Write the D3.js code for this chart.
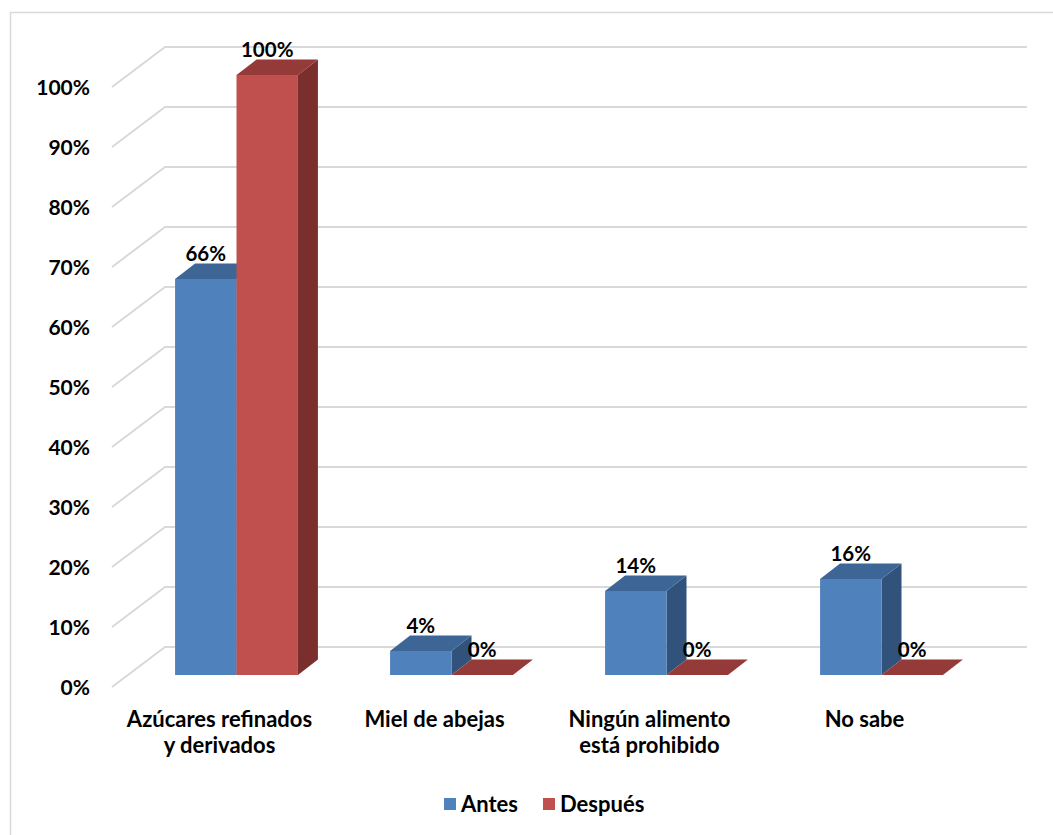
<!DOCTYPE html>
<html>
<head>
<meta charset="utf-8">
<script src="https://cdn.jsdelivr.net/npm/d3@7"></script>
<style>
  html, body { margin: 0; padding: 0; background: #fff; }
  svg { display: block; }
  text { font-family: Lato, "Open Sans", sans-serif; font-weight: 700; fill: #000; }
</style>
</head>
<body>
<svg id="chart" width="1053" height="835"></svg>
<script>
// Data
const categories = [["Azúcares refinados", "y derivados"], ["Miel de abejas"], ["Ningún alimento", "está prohibido"], ["No sabe"]];
const seriesNames = ["Antes", "Después"];
const antes = [0.66, 0.04, 0.14, 0.16];
const despues = [1.00, 0.00, 0.00, 0.00];
const yTicks = [0, 0.1, 0.2, 0.3, 0.4, 0.5, 0.6, 0.7, 0.8, 0.9, 1.0];

const colors = {
  Antes:   { front: "#4F81BD", top: "#3D6696", side: "#31527A" },
  "Después": { front: "#C0504D", top: "#943A38", side: "#7B2F2D" }
};

const svg = d3.select("#chart");
const W = 1053, H = 835;

// Chart border
svg.append("rect")
  .attr("x", 10.5).attr("y", 12.5)
  .attr("width", W + 20).attr("height", H + 20)
  .attr("fill", "#fff").attr("stroke", "#D9D9D9").attr("stroke-width", 1.5);

// 3D geometry: front edge of the floor/wall, and the depth vector to the back wall
const frontLeft = 112;
const wallDepth = { dx: 53, dy: -40 };
const catKeys = categories.map(c => c.join(" "));

const yFront = d3.scaleLinear().domain([0, 1]).range([687, 87]);
const yBack = d3.scaleLinear().domain([0, 1]).range([647, 47]);
const wallRight = 1027;

// Category band on the front floor edge (used for axis labels)
const xFront = d3.scaleBand().domain(catKeys).range([frontLeft, frontLeft + 860]);

// Bar plane sits partway into the depth
const barOffset = { dx: 17, dy: -12 };
const yBar = d3.scaleLinear().domain([0, 1]).range([yFront(0) + barOffset.dy, yFront(1) + barOffset.dy]);
const xBar = d3.scaleBand().domain(catKeys).range([frontLeft + barOffset.dx, frontLeft + barOffset.dx + 860]);
const xSeries = d3.scaleBand().domain(seriesNames).range([0, xBar.bandwidth()]).paddingInner(0).paddingOuter(0.75);
const barDepth = { dx: 20, dy: -15.5 };

// Gridlines: diagonal on the side wall plus horizontal on the back wall
const grid = svg.append("g").attr("stroke", "#D9D9D9").attr("stroke-width", 2).attr("fill", "none");
yTicks.forEach(t => {
  grid.append("path")
    .attr("d", `M${frontLeft},${yFront(t)} L${frontLeft + wallDepth.dx},${yBack(t)} L${wallRight},${yBack(t)}`);
});

// Y tick labels
svg.append("g").selectAll("text").data(yTicks).join("text")
  .attr("x", 90).attr("y", d => yFront(d))
  .attr("dy", "0.36em")
  .attr("text-anchor", "end")
  .attr("font-size", 21)
  .text(d => d3.format(".0%")(d));

// Bars
const rows = [];
catKeys.forEach((c, i) => {
  rows.push({ cat: c, series: "Antes", value: antes[i] });
  rows.push({ cat: c, series: "Después", value: despues[i] });
});

const bars = svg.append("g");
rows.forEach(r => {
  const x0 = xBar(r.cat) + xSeries(r.series);
  const x1 = x0 + xSeries.bandwidth();
  const yb = yBar(0), yt = yBar(r.value);
  const { dx, dy } = barDepth;
  const col = colors[r.series];
  const g = bars.append("g");
  // side face
  g.append("path")
    .attr("d", `M${x1},${yb} L${x1 + dx},${yb + dy} L${x1 + dx},${yt + dy} L${x1},${yt} Z`)
    .attr("fill", col.side);
  // top face
  g.append("path")
    .attr("d", `M${x0},${yt} L${x1},${yt} L${x1 + dx},${yt + dy} L${x0 + dx},${yt + dy} Z`)
    .attr("fill", col.top);
  // front face
  if (yb - yt > 0) {
    g.append("rect")
      .attr("x", x0).attr("y", yt)
      .attr("width", x1 - x0).attr("height", yb - yt)
      .attr("fill", col.front);
  }
});

// Data labels
svg.append("g").selectAll("text").data(rows).join("text")
  .attr("x", d => xBar(d.cat) + xSeries(d.series) + xSeries.bandwidth() / 2)
  .attr("y", d => yBar(d.value) - 18)
  .attr("text-anchor", "middle")
  .attr("font-size", 20.5)
  .text(d => d3.format(".0%")(d.value));

// Category labels
const catG = svg.append("g");
categories.forEach((lines, i) => {
  const t = catG.append("text")
    .attr("x", xFront(catKeys[i]) + xFront.bandwidth() / 2)
    .attr("y", 727)
    .attr("text-anchor", "middle")
    .attr("font-size", 22);
  lines.forEach((ln, j) => {
    t.append("tspan")
      .attr("x", xFront(catKeys[i]) + xFront.bandwidth() / 2)
      .attr("dy", j === 0 ? 0 : 26)
      .text(ln);
  });
});

// Legend
const legend = svg.append("g");
const legendX = [444, 543];
seriesNames.forEach((s, i) => {
  legend.append("rect")
    .attr("x", legendX[i]).attr("y", 798)
    .attr("width", 12).attr("height", 12)
    .attr("fill", colors[s].front);
  legend.append("text")
    .attr("x", legendX[i] + 17).attr("y", 812)
    .attr("font-size", 22)
    .text(s);
});
</script>
</body>
</html>
